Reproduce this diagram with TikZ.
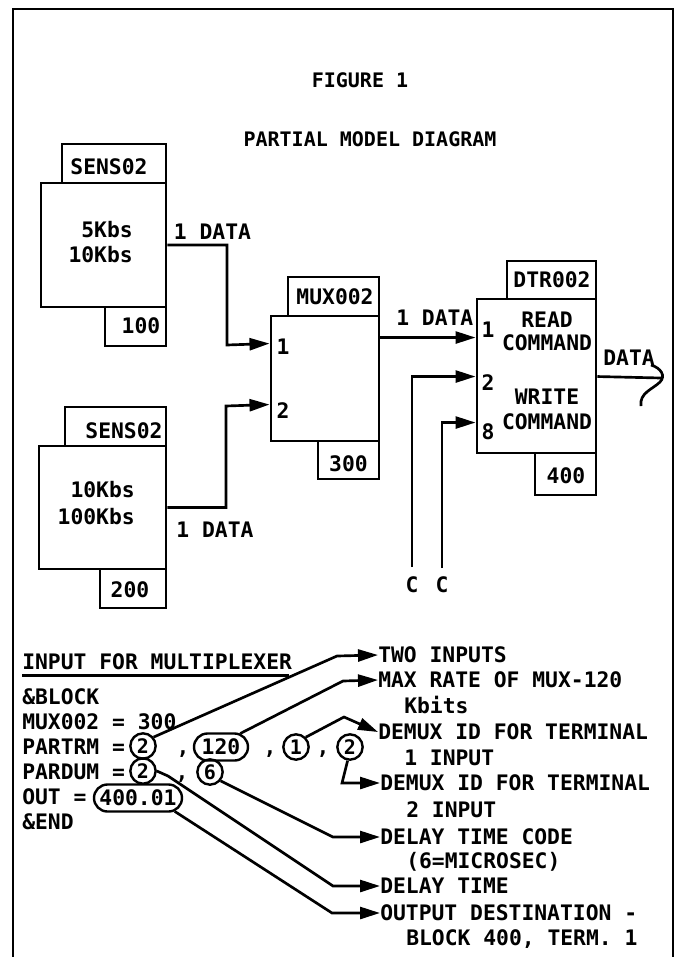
\documentclass[tikz,border=0pt]{standalone}
\usepackage{fontspec}
\newfontfamily\monofnt{DejaVu Sans Mono}
\usetikzlibrary{arrows.meta,calc,shapes.misc}
\newcommand\tyfont{\monofnt\bfseries\fontsize{16}{19}\selectfont}
\newcommand\ttlfont{\monofnt\bfseries\fontsize{15}{17}\selectfont}
\newcommand\cirfont{\monofnt\bfseries\fontsize{15}{17}\selectfont}
\begin{document}
\begin{tikzpicture}[x=0.75pt,y=-0.75pt,
  box/.style={draw, line width=2.2pt, inner sep=0pt},
  sz/.style 2 args={minimum width=#1*0.75pt, minimum height=#2*0.75pt},
  txt/.style={inner sep=0pt, font=\tyfont, text height=11.7pt, text depth=0pt},
  ttl/.style={inner sep=0pt, font=\ttlfont, text height=10.9pt, text depth=0pt},
  wire/.style={line width=2pt},
  arr/.style={wire, -{Triangle[length=15pt,width=9pt]}},
  circ/.style={draw, circle, line width=1.8pt, inner sep=0pt, minimum size=19pt, font=\cirfont},
  oval/.style={draw, rounded rectangle, line width=1.8pt, inner sep=0pt, font=\tyfont},
]
\useasboundingbox (0,0) rectangle (683,957);
% frame
\draw[line width=2.2pt] (13,957) -- (13,9) -- (673,9) -- (673,957);

% titles
\node[ttl] (fig) at (360,80) {FIGURE 1};
\node[ttl] (title) at (370,139) {PARTIAL MODEL DIAGRAM};

% sensor 1
\node[box, sz={104}{39}] (s1lab) at (114,163.5) {};
\node[box, sz={125}{124}] (s1) at (103.5,245) {};
\node[box, sz={61}{39}] (s1num) at (135.5,326.5) {};
\node[txt] (s1labt) at (109,167) {SENS02};
\node[txt, anchor=east] (s1r1) at (133,229.5) {5Kbs};
\node[txt, anchor=east] (s1r2) at (133,254.5) {10Kbs};
\node[txt] (s1numt) at (141,326) {100};

% sensor 2
\node[box, sz={101}{39}] (s2lab) at (115.5,426.5) {};
\node[box, sz={127}{123}] (s2) at (102.5,507.5) {};
\node[box, sz={66}{39}] (s2num) at (133,588.5) {};
\node[txt] (s2labt) at (124,431) {SENS02};
\node[txt, anchor=east] (s2r1) at (135,490) {10Kbs};
\node[txt, anchor=east] (s2r2) at (135,517) {100Kbs};
\node[txt] (s2numt) at (130,590) {200};

% multiplexer
\node[box, sz={91}{39}] (mlab) at (333.5,296.5) {};
\node[box, sz={108}{125}] (mux) at (325,378.5) {};
\node[box, sz={61}{38}] (mnum) at (348.5,460) {};
\node[txt] (mlabt) at (335,297) {MUX002};
\node[txt] (mnumt) at (348.5,464) {300};
\node[txt] (mp1) at (283,347) {1};
\node[txt] (mp2) at (283,411) {2};

% DTR
\node[box, sz={89}{38}] (dlab) at (551.5,280) {};
\node[box, sz={119}{154}] (dtr) at (536.5,376) {};
\node[box, sz={61}{42}] (dnum) at (565.5,474) {};
\node[txt] (dlabt) at (552,280) {DTR002};
\node[txt] (dnumt) at (566,476) {400};
\node[txt] (dt1) at (547,320) {READ};
\node[txt] (dt2) at (547,343) {COMMAND};
\node[txt] (dt3) at (547,397) {WRITE};
\node[txt] (dt4) at (547,422) {COMMAND};
\node[txt] (dp1) at (488,330) {1};
\node[txt] (dp2) at (488,383) {2};
\node[txt] (dp8) at (488,432) {8};

% data labels
\node[txt] (d1) at (212.5,232) {1 DATA};
\node[txt] (d2) at (215,530) {1 DATA};
\node[txt, anchor=west] (d3) at (396,318) {1 DATA};
\node[txt] (dout) at (629,358) {DATA};
\node[txt] (cl1) at (412,585) {C};
\node[txt] (cl2) at (442,585) {C};
\coordinate (cc1) at (412,567);
\coordinate (cc2) at (442,568);

% top connectors
\draw[arr] (s1.east) -| (227,345) -- ($(mux.north west)+(0,29)$);
\draw[arr] (s2.east) -| (226,406) -- ($(mux.north west)+(0,90)$);
\draw[arr] ($(mux.north east)+(0,23)$) -- ($(dtr.north west)+(0,40)$);
\draw[arr] (cc1) |- ($(dtr.north west)+(0,79)$);
\draw[arr] (cc2) |- ($(dtr.north west)+(0,125)$);
\draw[wire] ($(dtr.north east)+(0,79)$) -- (661,378);
\draw[wire] (651,365) .. controls (661,368) and (666,376) .. (660,382)
  .. controls (653,389) and (639,393) .. (641,406);

% input listing
\node[txt, anchor=west] (hdr) at (22,661.5) {INPUT FOR MULTIPLEXER};
\draw[line width=1.8pt] ($(hdr.south west)+(0,6)$) -- ($(hdr.south east)+(-3,6)$);
\node[txt, anchor=west] (l1) at (22,697) {\&BLOCK};
\node[txt, anchor=west] (l2) at (22,722) {MUX002 = 300};
\node[txt, anchor=west] (l3) at (22,747) {PARTRM =};
\node[txt, anchor=west] (l4) at (22,772) {PARDUM =};
\node[txt, anchor=west] (l5) at (22,797) {OUT =};
\node[txt, anchor=west] (l6) at (22,822) {\&END};

\node[circ] (pa) at (143,746) {2};
\node[oval, sz={54}{27}] (pb) at (221,747) {120};
\node[circ] (pc) at (296,747) {1};
\node[circ] (pd) at (350,747) {2};
\node[circ] (pe) at (143,771) {2};
\node[circ] (pf) at (210,772) {6};
\node[oval, sz={88}{27}] (pg) at (138,798) {400.01};
\node[txt] (cm1) at (183,747) {,};
\node[txt] (cm2) at (270,747) {,};
\node[txt] (cm3) at (323,747) {,};
\node[txt] (cm4) at (182,772) {,};

% annotations
\node[txt, anchor=west] (r1) at (378,655) {TWO INPUTS};
\node[txt, anchor=west] (r2) at (378,680) {MAX RATE OF MUX-120};
\node[txt, anchor=west] (r3) at (404,706) {Kbits};
\node[txt, anchor=west] (r4) at (378,732) {DEMUX ID FOR TERMINAL};
\node[txt, anchor=west] (r5) at (404,758) {1 INPUT};
\node[txt, anchor=west] (r6) at (380,783) {DEMUX ID FOR TERMINAL};
\node[txt, anchor=west] (r7) at (406,810) {2 INPUT};
\node[txt, anchor=west] (r8) at (380,837) {DELAY TIME CODE};
\node[txt, anchor=west] (r9) at (406,861) {(6=MICROSEC)};
\node[txt, anchor=west] (r10) at (380,886) {DELAY TIME};
\node[txt, anchor=west] (r11) at (380,913) {OUTPUT DESTINATION -};
\node[txt, anchor=west] (r12) at (406,938) {BLOCK 400, TERM. 1};

\draw[arr] (pa.40) -- (337,656) -- (r1.west);
\draw[arr] (pb.35) -- (343,681) -- (r2.west);
\draw[arr] (pc.45) -- (344,717) -- (r4.west);
\draw[arr] (pd.-100) -- (342,783) -- (r6.west);
\draw[arr] (pf.-40) -- (333,837) -- (r8.west);
\draw[arr] (pe.east) -- (168,776) -- (333,886) -- (r10.west);
\draw[arr] (pg.-20) -- (332,913) -- (r11.west);
\draw[wire] (pe.south) -- (pg.north -| pe.south);
\end{tikzpicture}
\end{document}
